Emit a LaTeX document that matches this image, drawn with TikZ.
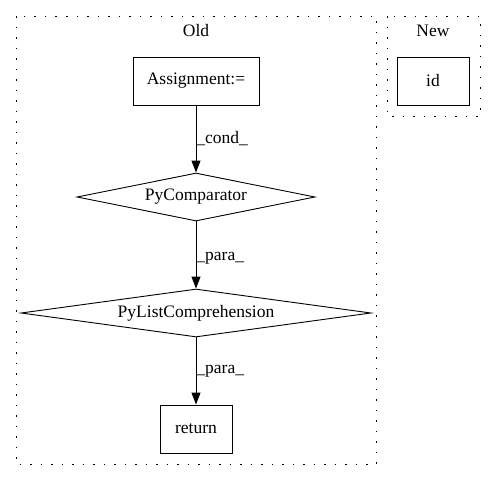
\documentclass[tikz,border=0pt]{standalone}
\usepackage{fontspec}
\setmainfont{Liberation Serif}
\usetikzlibrary{shapes.geometric,arrows.meta}
\tikzset{
  every node/.style={font=\fontsize{17.5pt}{20pt}\selectfont},
  boxnode/.style={draw,line width=0.9pt,inner sep=0pt,rectangle},
  dianode/.style={draw,line width=0.9pt,inner sep=0pt,diamond},
  cluster/.style={line width=0.9pt,dash pattern=on 1.5pt off 9pt},
  edge/.style={line width=0.9pt,-{Triangle[length=12pt,width=9pt]}},
  elabel/.style={anchor=west,inner sep=0pt}
}
\begin{document}
\begin{tikzpicture}[x=1pt,y=-1pt]
\useasboundingbox (0,0) rectangle (496,480);
% clusters
\draw[cluster] (16,16) rectangle (376,464);
\draw[cluster] (387,16) rectangle (480,116);
\node (oldlbl) at (196,31) {Old};
\node (newlbl) at (433,31) {New};
% nodes
\node[boxnode,minimum width=126pt,minimum height=48pt] (assign) at (196,81) {Assignment:=};
\node[dianode,aspect=5,minimum width=238pt,minimum height=48pt] (comp) at (196,197) {PyComparator};
\node[dianode,aspect=7,minimum width=350pt,minimum height=48pt] (listc) at (196,313) {PyListComprehension};
\node[boxnode,minimum width=72pt,minimum height=48pt] (ret) at (196,429) {return};
\node[boxnode,minimum width=72pt,minimum height=48pt] (id) at (433,81) {id};
% edges
\draw[edge] (assign) -- node[elabel,pos=0.5] {\_cond\_} (comp);
\draw[edge] (comp) -- node[elabel,pos=0.55] {\_para\_} (listc);
\draw[edge] (listc) -- node[elabel,pos=0.5] {\_para\_} (ret);
\end{tikzpicture}
\end{document}
